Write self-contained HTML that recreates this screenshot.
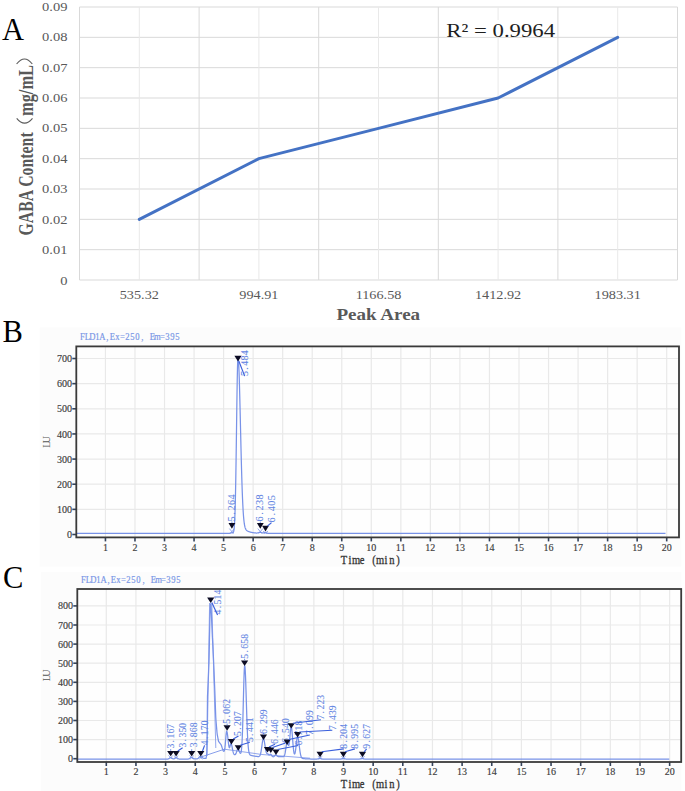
<!DOCTYPE html>
<html><head><meta charset="utf-8"><style>
html,body{margin:0;padding:0;background:#fff;overflow:hidden;}
svg{display:block;}
</style></head><body>
<svg width="685" height="791" viewBox="0 0 685 791">
<rect width="685" height="791" fill="#fff"/>
<line x1="79.5" y1="280" x2="677.5" y2="280" stroke="#d9d9d9" stroke-width="1"/>
<line x1="79.5" y1="249.67" x2="677.5" y2="249.67" stroke="#d9d9d9" stroke-width="1"/>
<line x1="79.5" y1="219.33" x2="677.5" y2="219.33" stroke="#d9d9d9" stroke-width="1"/>
<line x1="79.5" y1="189" x2="677.5" y2="189" stroke="#d9d9d9" stroke-width="1"/>
<line x1="79.5" y1="158.67" x2="677.5" y2="158.67" stroke="#d9d9d9" stroke-width="1"/>
<line x1="79.5" y1="128.33" x2="677.5" y2="128.33" stroke="#d9d9d9" stroke-width="1"/>
<line x1="79.5" y1="98" x2="677.5" y2="98" stroke="#d9d9d9" stroke-width="1"/>
<line x1="79.5" y1="67.67" x2="677.5" y2="67.67" stroke="#d9d9d9" stroke-width="1"/>
<line x1="79.5" y1="37.33" x2="677.5" y2="37.33" stroke="#d9d9d9" stroke-width="1"/>
<line x1="79.5" y1="7" x2="677.5" y2="7" stroke="#d9d9d9" stroke-width="1"/>
<line x1="79.5" y1="7" x2="79.5" y2="280" stroke="#d9d9d9" stroke-width="1"/>
<line x1="139.3" y1="7" x2="139.3" y2="280" stroke="#e9e9e9" stroke-width="1"/>
<line x1="199.1" y1="7" x2="199.1" y2="280" stroke="#d9d9d9" stroke-width="1"/>
<line x1="258.9" y1="7" x2="258.9" y2="280" stroke="#e9e9e9" stroke-width="1"/>
<line x1="318.7" y1="7" x2="318.7" y2="280" stroke="#d9d9d9" stroke-width="1"/>
<line x1="378.5" y1="7" x2="378.5" y2="280" stroke="#e9e9e9" stroke-width="1"/>
<line x1="438.3" y1="7" x2="438.3" y2="280" stroke="#d9d9d9" stroke-width="1"/>
<line x1="498.1" y1="7" x2="498.1" y2="280" stroke="#e9e9e9" stroke-width="1"/>
<line x1="557.9" y1="7" x2="557.9" y2="280" stroke="#d9d9d9" stroke-width="1"/>
<line x1="617.7" y1="7" x2="617.7" y2="280" stroke="#e9e9e9" stroke-width="1"/>
<line x1="677.5" y1="7" x2="677.5" y2="280" stroke="#d9d9d9" stroke-width="1"/>
<rect x="445" y="20" width="111" height="16.6" fill="#fff"/>
<polyline points="139.3,219.33 258.9,158.67 378.5,128.33 498.1,98 617.7,37.33" fill="none" stroke="#4472c4" stroke-width="3" stroke-linejoin="round" stroke-linecap="round"/>
<text transform="translate(67.4,284.7) scale(1.1,1)" text-anchor="end" font-family='"Liberation Serif", serif' font-size="13.2" font-weight="normal" fill="#595959" >0</text>
<text transform="translate(67.4,254.26) scale(1.1,1)" text-anchor="end" font-family='"Liberation Serif", serif' font-size="13.2" font-weight="normal" fill="#595959" >0.01</text>
<text transform="translate(67.4,223.81) scale(1.1,1)" text-anchor="end" font-family='"Liberation Serif", serif' font-size="13.2" font-weight="normal" fill="#595959" >0.02</text>
<text transform="translate(67.4,193.37) scale(1.1,1)" text-anchor="end" font-family='"Liberation Serif", serif' font-size="13.2" font-weight="normal" fill="#595959" >0.03</text>
<text transform="translate(67.4,162.93) scale(1.1,1)" text-anchor="end" font-family='"Liberation Serif", serif' font-size="13.2" font-weight="normal" fill="#595959" >0.04</text>
<text transform="translate(67.4,132.48) scale(1.1,1)" text-anchor="end" font-family='"Liberation Serif", serif' font-size="13.2" font-weight="normal" fill="#595959" >0.05</text>
<text transform="translate(67.4,102.04) scale(1.1,1)" text-anchor="end" font-family='"Liberation Serif", serif' font-size="13.2" font-weight="normal" fill="#595959" >0.06</text>
<text transform="translate(67.4,71.6) scale(1.1,1)" text-anchor="end" font-family='"Liberation Serif", serif' font-size="13.2" font-weight="normal" fill="#595959" >0.07</text>
<text transform="translate(67.4,41.15) scale(1.1,1)" text-anchor="end" font-family='"Liberation Serif", serif' font-size="13.2" font-weight="normal" fill="#595959" >0.08</text>
<text transform="translate(67.4,10.71) scale(1.1,1)" text-anchor="end" font-family='"Liberation Serif", serif' font-size="13.2" font-weight="normal" fill="#595959" >0.09</text>
<text transform="translate(139.3,298.6) scale(1.08,1)" text-anchor="middle" font-family='"Liberation Serif", serif' font-size="13.2" font-weight="normal" fill="#595959" >535.32</text>
<text transform="translate(258.9,298.6) scale(1.08,1)" text-anchor="middle" font-family='"Liberation Serif", serif' font-size="13.2" font-weight="normal" fill="#595959" >994.91</text>
<text transform="translate(378.5,298.6) scale(1.08,1)" text-anchor="middle" font-family='"Liberation Serif", serif' font-size="13.2" font-weight="normal" fill="#595959" >1166.58</text>
<text transform="translate(498.1,298.6) scale(1.08,1)" text-anchor="middle" font-family='"Liberation Serif", serif' font-size="13.2" font-weight="normal" fill="#595959" >1412.92</text>
<text transform="translate(617.7,298.6) scale(1.08,1)" text-anchor="middle" font-family='"Liberation Serif", serif' font-size="13.2" font-weight="normal" fill="#595959" >1983.31</text>
<text transform="translate(378.3,320.2) scale(1.19,1)" text-anchor="middle" font-family='"Liberation Serif", serif' font-size="16" font-weight="bold" fill="#595959" >Peak Area</text>
<text transform="translate(446.3,37) scale(1.18,1)" text-anchor="start" font-family='"Liberation Serif", serif' font-size="19.3" font-weight="normal" fill="#1e1e1e" >R² = 0.9964</text>
<g transform="translate(32.8,235.6) scale(1.25,1) rotate(-90)" font-family='"Liberation Serif", serif' font-size="16" font-weight="bold" fill="#595959"><text x="0" y="0" textLength="103.3" lengthAdjust="spacingAndGlyphs">GABA Content</text><text x="119.6" y="0" textLength="51" lengthAdjust="spacingAndGlyphs">mg/mL</text></g>
<path d="M16.6,64 Q24.5,54 32.3,64" fill="none" stroke="#5a5a5a" stroke-width="1.1"/>
<path d="M16.7,118.3 Q24.6,128 32.5,118.3" fill="none" stroke="#5a5a5a" stroke-width="1.1"/>
<text x="2.0" y="39.9" font-family='"Liberation Serif", serif' font-size="30.5" fill="#000">A</text>
<text x="2.5" y="342" font-family='"Liberation Serif", serif' font-size="30.5" fill="#000">B</text>
<text x="2.9" y="588" font-family='"Liberation Serif", serif' font-size="30.5" fill="#000">C</text>
<rect x="39.6" y="327.5" width="641.7" height="239.2" fill="#fcfcfc"/>
<rect x="76.3" y="346.4" width="602.7" height="191" fill="#fefefe"/>
<line x1="105.44" y1="346.4" x2="105.44" y2="537.4" stroke="#e9e9e9" stroke-width="1.2"/>
<line x1="134.98" y1="346.4" x2="134.98" y2="537.4" stroke="#e9e9e9" stroke-width="1.2"/>
<line x1="164.52" y1="346.4" x2="164.52" y2="537.4" stroke="#e9e9e9" stroke-width="1.2"/>
<line x1="194.06" y1="346.4" x2="194.06" y2="537.4" stroke="#e9e9e9" stroke-width="1.2"/>
<line x1="223.6" y1="346.4" x2="223.6" y2="537.4" stroke="#e9e9e9" stroke-width="1.2"/>
<line x1="253.14" y1="346.4" x2="253.14" y2="537.4" stroke="#e9e9e9" stroke-width="1.2"/>
<line x1="282.68" y1="346.4" x2="282.68" y2="537.4" stroke="#e9e9e9" stroke-width="1.2"/>
<line x1="312.22" y1="346.4" x2="312.22" y2="537.4" stroke="#e9e9e9" stroke-width="1.2"/>
<line x1="341.76" y1="346.4" x2="341.76" y2="537.4" stroke="#e9e9e9" stroke-width="1.2"/>
<line x1="371.3" y1="346.4" x2="371.3" y2="537.4" stroke="#e9e9e9" stroke-width="1.2"/>
<line x1="400.84" y1="346.4" x2="400.84" y2="537.4" stroke="#e9e9e9" stroke-width="1.2"/>
<line x1="430.38" y1="346.4" x2="430.38" y2="537.4" stroke="#e9e9e9" stroke-width="1.2"/>
<line x1="459.92" y1="346.4" x2="459.92" y2="537.4" stroke="#e9e9e9" stroke-width="1.2"/>
<line x1="489.46" y1="346.4" x2="489.46" y2="537.4" stroke="#e9e9e9" stroke-width="1.2"/>
<line x1="519" y1="346.4" x2="519" y2="537.4" stroke="#e9e9e9" stroke-width="1.2"/>
<line x1="548.54" y1="346.4" x2="548.54" y2="537.4" stroke="#e9e9e9" stroke-width="1.2"/>
<line x1="578.08" y1="346.4" x2="578.08" y2="537.4" stroke="#e9e9e9" stroke-width="1.2"/>
<line x1="607.62" y1="346.4" x2="607.62" y2="537.4" stroke="#e9e9e9" stroke-width="1.2"/>
<line x1="637.16" y1="346.4" x2="637.16" y2="537.4" stroke="#e9e9e9" stroke-width="1.2"/>
<line x1="666.7" y1="346.4" x2="666.7" y2="537.4" stroke="#e9e9e9" stroke-width="1.2"/>
<line x1="76.3" y1="509.36" x2="679" y2="509.36" stroke="#e9e9e9" stroke-width="1.2"/>
<line x1="76.3" y1="484.22" x2="679" y2="484.22" stroke="#e9e9e9" stroke-width="1.2"/>
<line x1="76.3" y1="459.08" x2="679" y2="459.08" stroke="#e9e9e9" stroke-width="1.2"/>
<line x1="76.3" y1="433.94" x2="679" y2="433.94" stroke="#e9e9e9" stroke-width="1.2"/>
<line x1="76.3" y1="408.8" x2="679" y2="408.8" stroke="#e9e9e9" stroke-width="1.2"/>
<line x1="76.3" y1="383.66" x2="679" y2="383.66" stroke="#e9e9e9" stroke-width="1.2"/>
<line x1="76.3" y1="358.52" x2="679" y2="358.52" stroke="#e9e9e9" stroke-width="1.2"/>
<text transform="scale(0.8,1)" x="103 109.25 115.5 121.75 128 134.25 140.5 146.75 153 159.25 165.5 171.75 178" y="339.8" text-anchor="middle" font-family='"Liberation Serif", serif' font-size="10.8" fill="#7896e6" stroke="#7896e6" stroke-width="0.2">FLD1A,Ex=250,</text>
<text transform="scale(0.8,1)" x="190.5 196.75 203 209.25 215.5 221.75" y="339.8" text-anchor="middle" font-family='"Liberation Serif", serif' font-size="10.8" fill="#7896e6" stroke="#7896e6" stroke-width="0.2">Em=395</text>
<line x1="72.3" y1="534.5" x2="76.3" y2="534.5" stroke="#34435c" stroke-width="1.6"/>
<text transform="scale(0.93,1)" x="74.73" y="538.1" text-anchor="middle" font-family='"Liberation Serif", serif' font-size="10.8" fill="#3a3a3a" stroke="#3a3a3a" stroke-width="0.15">0</text>
<line x1="72.3" y1="509.36" x2="76.3" y2="509.36" stroke="#34435c" stroke-width="1.6"/>
<text transform="scale(0.93,1)" x="63.98 69.35 74.73" y="512.96" text-anchor="middle" font-family='"Liberation Serif", serif' font-size="10.8" fill="#3a3a3a" stroke="#3a3a3a" stroke-width="0.15">100</text>
<line x1="72.3" y1="484.22" x2="76.3" y2="484.22" stroke="#34435c" stroke-width="1.6"/>
<text transform="scale(0.93,1)" x="63.98 69.35 74.73" y="487.82" text-anchor="middle" font-family='"Liberation Serif", serif' font-size="10.8" fill="#3a3a3a" stroke="#3a3a3a" stroke-width="0.15">200</text>
<line x1="72.3" y1="459.08" x2="76.3" y2="459.08" stroke="#34435c" stroke-width="1.6"/>
<text transform="scale(0.93,1)" x="63.98 69.35 74.73" y="462.68" text-anchor="middle" font-family='"Liberation Serif", serif' font-size="10.8" fill="#3a3a3a" stroke="#3a3a3a" stroke-width="0.15">300</text>
<line x1="72.3" y1="433.94" x2="76.3" y2="433.94" stroke="#34435c" stroke-width="1.6"/>
<text transform="scale(0.93,1)" x="63.98 69.35 74.73" y="437.54" text-anchor="middle" font-family='"Liberation Serif", serif' font-size="10.8" fill="#3a3a3a" stroke="#3a3a3a" stroke-width="0.15">400</text>
<line x1="72.3" y1="408.8" x2="76.3" y2="408.8" stroke="#34435c" stroke-width="1.6"/>
<text transform="scale(0.93,1)" x="63.98 69.35 74.73" y="412.4" text-anchor="middle" font-family='"Liberation Serif", serif' font-size="10.8" fill="#3a3a3a" stroke="#3a3a3a" stroke-width="0.15">500</text>
<line x1="72.3" y1="383.66" x2="76.3" y2="383.66" stroke="#34435c" stroke-width="1.6"/>
<text transform="scale(0.93,1)" x="63.98 69.35 74.73" y="387.26" text-anchor="middle" font-family='"Liberation Serif", serif' font-size="10.8" fill="#3a3a3a" stroke="#3a3a3a" stroke-width="0.15">600</text>
<line x1="72.3" y1="358.52" x2="76.3" y2="358.52" stroke="#34435c" stroke-width="1.6"/>
<text transform="scale(0.93,1)" x="63.98 69.35 74.73" y="362.12" text-anchor="middle" font-family='"Liberation Serif", serif' font-size="10.8" fill="#3a3a3a" stroke="#3a3a3a" stroke-width="0.15">700</text>
<line x1="105.44" y1="537.4" x2="105.44" y2="541.4" stroke="#34435c" stroke-width="1.6"/>
<text transform="scale(0.93,1)" x="113.38" y="551.4" text-anchor="middle" font-family='"Liberation Serif", serif' font-size="10.8" fill="#3a3a3a" stroke="#3a3a3a" stroke-width="0.15">1</text>
<line x1="134.98" y1="537.4" x2="134.98" y2="541.4" stroke="#34435c" stroke-width="1.6"/>
<text transform="scale(0.93,1)" x="145.14" y="551.4" text-anchor="middle" font-family='"Liberation Serif", serif' font-size="10.8" fill="#3a3a3a" stroke="#3a3a3a" stroke-width="0.15">2</text>
<line x1="164.52" y1="537.4" x2="164.52" y2="541.4" stroke="#34435c" stroke-width="1.6"/>
<text transform="scale(0.93,1)" x="176.9" y="551.4" text-anchor="middle" font-family='"Liberation Serif", serif' font-size="10.8" fill="#3a3a3a" stroke="#3a3a3a" stroke-width="0.15">3</text>
<line x1="194.06" y1="537.4" x2="194.06" y2="541.4" stroke="#34435c" stroke-width="1.6"/>
<text transform="scale(0.93,1)" x="208.67" y="551.4" text-anchor="middle" font-family='"Liberation Serif", serif' font-size="10.8" fill="#3a3a3a" stroke="#3a3a3a" stroke-width="0.15">4</text>
<line x1="223.6" y1="537.4" x2="223.6" y2="541.4" stroke="#34435c" stroke-width="1.6"/>
<text transform="scale(0.93,1)" x="240.43" y="551.4" text-anchor="middle" font-family='"Liberation Serif", serif' font-size="10.8" fill="#3a3a3a" stroke="#3a3a3a" stroke-width="0.15">5</text>
<line x1="253.14" y1="537.4" x2="253.14" y2="541.4" stroke="#34435c" stroke-width="1.6"/>
<text transform="scale(0.93,1)" x="272.19" y="551.4" text-anchor="middle" font-family='"Liberation Serif", serif' font-size="10.8" fill="#3a3a3a" stroke="#3a3a3a" stroke-width="0.15">6</text>
<line x1="282.68" y1="537.4" x2="282.68" y2="541.4" stroke="#34435c" stroke-width="1.6"/>
<text transform="scale(0.93,1)" x="303.96" y="551.4" text-anchor="middle" font-family='"Liberation Serif", serif' font-size="10.8" fill="#3a3a3a" stroke="#3a3a3a" stroke-width="0.15">7</text>
<line x1="312.22" y1="537.4" x2="312.22" y2="541.4" stroke="#34435c" stroke-width="1.6"/>
<text transform="scale(0.93,1)" x="335.72" y="551.4" text-anchor="middle" font-family='"Liberation Serif", serif' font-size="10.8" fill="#3a3a3a" stroke="#3a3a3a" stroke-width="0.15">8</text>
<line x1="341.76" y1="537.4" x2="341.76" y2="541.4" stroke="#34435c" stroke-width="1.6"/>
<text transform="scale(0.93,1)" x="367.48" y="551.4" text-anchor="middle" font-family='"Liberation Serif", serif' font-size="10.8" fill="#3a3a3a" stroke="#3a3a3a" stroke-width="0.15">9</text>
<line x1="371.3" y1="537.4" x2="371.3" y2="541.4" stroke="#34435c" stroke-width="1.6"/>
<text transform="scale(0.93,1)" x="396.56 401.94" y="551.4" text-anchor="middle" font-family='"Liberation Serif", serif' font-size="10.8" fill="#3a3a3a" stroke="#3a3a3a" stroke-width="0.15">10</text>
<line x1="400.84" y1="537.4" x2="400.84" y2="541.4" stroke="#34435c" stroke-width="1.6"/>
<text transform="scale(0.93,1)" x="428.32 433.7" y="551.4" text-anchor="middle" font-family='"Liberation Serif", serif' font-size="10.8" fill="#3a3a3a" stroke="#3a3a3a" stroke-width="0.15">11</text>
<line x1="430.38" y1="537.4" x2="430.38" y2="541.4" stroke="#34435c" stroke-width="1.6"/>
<text transform="scale(0.93,1)" x="460.09 465.46" y="551.4" text-anchor="middle" font-family='"Liberation Serif", serif' font-size="10.8" fill="#3a3a3a" stroke="#3a3a3a" stroke-width="0.15">12</text>
<line x1="459.92" y1="537.4" x2="459.92" y2="541.4" stroke="#34435c" stroke-width="1.6"/>
<text transform="scale(0.93,1)" x="491.85 497.23" y="551.4" text-anchor="middle" font-family='"Liberation Serif", serif' font-size="10.8" fill="#3a3a3a" stroke="#3a3a3a" stroke-width="0.15">13</text>
<line x1="489.46" y1="537.4" x2="489.46" y2="541.4" stroke="#34435c" stroke-width="1.6"/>
<text transform="scale(0.93,1)" x="523.61 528.99" y="551.4" text-anchor="middle" font-family='"Liberation Serif", serif' font-size="10.8" fill="#3a3a3a" stroke="#3a3a3a" stroke-width="0.15">14</text>
<line x1="519" y1="537.4" x2="519" y2="541.4" stroke="#34435c" stroke-width="1.6"/>
<text transform="scale(0.93,1)" x="555.38 560.75" y="551.4" text-anchor="middle" font-family='"Liberation Serif", serif' font-size="10.8" fill="#3a3a3a" stroke="#3a3a3a" stroke-width="0.15">15</text>
<line x1="548.54" y1="537.4" x2="548.54" y2="541.4" stroke="#34435c" stroke-width="1.6"/>
<text transform="scale(0.93,1)" x="587.14 592.52" y="551.4" text-anchor="middle" font-family='"Liberation Serif", serif' font-size="10.8" fill="#3a3a3a" stroke="#3a3a3a" stroke-width="0.15">16</text>
<line x1="578.08" y1="537.4" x2="578.08" y2="541.4" stroke="#34435c" stroke-width="1.6"/>
<text transform="scale(0.93,1)" x="618.9 624.28" y="551.4" text-anchor="middle" font-family='"Liberation Serif", serif' font-size="10.8" fill="#3a3a3a" stroke="#3a3a3a" stroke-width="0.15">17</text>
<line x1="607.62" y1="537.4" x2="607.62" y2="541.4" stroke="#34435c" stroke-width="1.6"/>
<text transform="scale(0.93,1)" x="650.67 656.04" y="551.4" text-anchor="middle" font-family='"Liberation Serif", serif' font-size="10.8" fill="#3a3a3a" stroke="#3a3a3a" stroke-width="0.15">18</text>
<line x1="637.16" y1="537.4" x2="637.16" y2="541.4" stroke="#34435c" stroke-width="1.6"/>
<text transform="scale(0.93,1)" x="682.43 687.81" y="551.4" text-anchor="middle" font-family='"Liberation Serif", serif' font-size="10.8" fill="#3a3a3a" stroke="#3a3a3a" stroke-width="0.15">19</text>
<line x1="666.7" y1="537.4" x2="666.7" y2="541.4" stroke="#34435c" stroke-width="1.6"/>
<text transform="scale(0.93,1)" x="714.19 719.57" y="551.4" text-anchor="middle" font-family='"Liberation Serif", serif' font-size="10.8" fill="#3a3a3a" stroke="#3a3a3a" stroke-width="0.15">20</text>
<g transform="translate(49.6,442.1) rotate(-90)"><text transform="scale(0.93,1)" x="-2.69 2.69" y="0" text-anchor="middle" font-family='"Liberation Serif", serif' font-size="10.8" fill="#555" >LU</text></g>
<text transform="scale(0.82,1)" x="419.51 426.83 434.15 441.46 448.78 456.1 463.41 470.73 478.05 485.37" y="564.2" text-anchor="middle" font-family='"Liberation Serif", serif' font-size="12.8" fill="#333" stroke="#333" stroke-width="0.3">Time (min)</text>
<path d="M76.5,533.49 L78.5,533.49 L80.5,533.49 L82.5,533.49 L84.5,533.49 L86.5,533.49 L88.5,533.49 L90.5,533.49 L92.5,533.49 L94.5,533.49 L96.5,533.49 L98.5,533.49 L100.5,533.49 L102.5,533.49 L104.5,533.49 L106.5,533.49 L108.5,533.49 L110.5,533.49 L112.5,533.49 L114.5,533.49 L116.5,533.49 L118.5,533.49 L120.5,533.49 L122.5,533.49 L124.5,533.49 L126.5,533.49 L128.5,533.49 L130.5,533.49 L132.5,533.49 L134.5,533.49 L136.5,533.49 L138.5,533.49 L140.5,533.49 L142.5,533.49 L144.5,533.49 L146.5,533.49 L148.5,533.49 L150.5,533.49 L152.5,533.49 L154.5,533.49 L156.5,533.49 L158.5,533.49 L160.5,533.49 L162.5,533.49 L164.5,533.49 L166.5,533.49 L168.5,533.49 L170.5,533.49 L172.5,533.49 L174.5,533.49 L176.5,533.49 L178.5,533.49 L180.5,533.49 L182.5,533.49 L184.5,533.49 L186.5,533.49 L188.5,533.49 L190.5,533.49 L192.5,533.49 L194.5,533.49 L196.5,533.49 L198.5,533.49 L200.5,533.49 L200.75,533.49 L201,533.49 L201.25,533.49 L201.5,533.49 L201.75,533.49 L202,533.49 L202.25,533.49 L202.5,533.49 L202.75,533.49 L203,533.49 L203.25,533.49 L203.5,533.49 L203.75,533.49 L204,533.49 L204.25,533.49 L204.5,533.49 L204.75,533.49 L205,533.49 L205.25,533.49 L205.5,533.49 L205.75,533.49 L206,533.49 L206.25,533.49 L206.5,533.49 L206.75,533.49 L207,533.49 L207.25,533.49 L207.5,533.49 L207.75,533.49 L208,533.49 L208.25,533.49 L208.5,533.49 L208.75,533.49 L209,533.49 L209.25,533.49 L209.5,533.49 L209.75,533.49 L210,533.49 L210.25,533.49 L210.5,533.49 L210.75,533.49 L211,533.49 L211.25,533.49 L211.5,533.49 L211.75,533.49 L212,533.49 L212.25,533.49 L212.5,533.49 L212.75,533.49 L213,533.49 L213.25,533.49 L213.5,533.49 L213.75,533.49 L214,533.49 L214.25,533.49 L214.5,533.49 L214.75,533.49 L215,533.49 L215.25,533.49 L215.5,533.49 L215.75,533.49 L216,533.49 L216.25,533.49 L216.5,533.49 L216.75,533.49 L217,533.49 L217.25,533.49 L217.5,533.49 L217.75,533.49 L218,533.49 L218.25,533.49 L218.5,533.49 L218.75,533.49 L219,533.49 L219.25,533.49 L219.5,533.49 L219.75,533.49 L220,533.49 L220.25,533.49 L220.5,533.49 L220.75,533.49 L221,533.49 L221.25,533.49 L221.5,533.49 L221.75,533.49 L222,533.49 L222.25,533.49 L222.5,533.49 L222.75,533.49 L223,533.49 L223.25,533.49 L223.5,533.49 L223.75,533.49 L224,533.49 L224.25,533.49 L224.5,533.49 L224.75,533.49 L225,533.49 L225.25,533.49 L225.5,533.49 L225.75,533.49 L226,533.49 L226.25,533.49 L226.5,533.49 L226.75,533.49 L227,533.49 L227.25,533.49 L227.5,533.49 L227.75,533.49 L228,533.49 L228.25,533.49 L228.5,533.48 L228.75,533.47 L229,533.45 L229.25,533.42 L229.5,533.37 L229.75,533.3 L230,533.21 L230.25,533.1 L230.5,532.99 L230.75,532.88 L231,532.8 L231.25,532.75 L231.5,532.74 L231.75,532.77 L232,532.83 L232.25,532.9 L232.5,532.95 L232.75,532.94 L233,532.82 L233.25,532.53 L233.5,531.98 L233.75,531.04 L234,529.54 L234.25,527.25 L234.5,523.9 L234.75,519.18 L235,512.74 L235.25,504.28 L235.5,493.57 L235.75,480.55 L236,465.33 L236.25,448.3 L236.5,430.14 L236.75,411.78 L237,394.36 L237.25,379.11 L237.5,367.2 L237.75,359.62 L238,357.01 L238.25,357.9 L238.5,360.53 L238.75,364.86 L239,370.75 L239.25,378.03 L239.5,386.5 L239.75,395.91 L240,406.02 L240.25,416.57 L240.5,427.3 L240.75,437.98 L241,448.41 L241.25,458.4 L241.5,467.8 L241.75,476.53 L242,484.49 L242.25,491.65 L242.5,498.01 L242.75,503.57 L243,508.38 L243.25,512.49 L243.5,515.96 L243.75,518.86 L244,521.25 L244.25,523.22 L244.5,524.81 L244.75,526.1 L245,527.14 L245.25,527.97 L245.5,528.63 L245.75,529.16 L246,529.59 L246.25,529.94 L246.5,530.23 L246.75,530.47 L247,530.67 L247.25,530.85 L247.5,531 L247.75,531.14 L248,531.27 L248.25,531.38 L248.5,531.49 L248.75,531.59 L249,531.68 L249.25,531.77 L249.5,531.85 L249.75,531.93 L250,532 L250.25,532.07 L250.5,532.14 L250.75,532.2 L251,532.27 L251.25,532.32 L251.5,532.38 L251.75,532.43 L252,532.48 L252.25,532.53 L252.5,532.58 L252.75,532.62 L253,532.66 L253.25,532.7 L253.5,532.74 L253.75,532.77 L254,532.81 L254.25,532.84 L254.5,532.87 L254.75,532.9 L255,532.93 L255.25,532.95 L255.5,532.97 L255.75,532.99 L256,533.01 L256.25,533.02 L256.5,533.02 L256.75,533.02 L257,533 L257.25,532.98 L257.5,532.94 L257.75,532.89 L258,532.83 L258.25,532.75 L258.5,532.67 L258.75,532.58 L259,532.49 L259.25,532.41 L259.5,532.35 L259.75,532.3 L260,532.28 L260.25,532.28 L260.5,532.31 L260.75,532.36 L261,532.44 L261.25,532.52 L261.5,532.61 L261.75,532.7 L262,532.78 L262.25,532.85 L262.5,532.89 L262.75,532.92 L263,532.92 L263.25,532.91 L263.5,532.87 L263.75,532.83 L264,532.78 L264.25,532.73 L264.5,532.69 L264.75,532.67 L265,532.66 L265.25,532.66 L265.5,532.69 L265.75,532.74 L266,532.8 L266.25,532.87 L266.5,532.94 L266.75,533.02 L267,533.1 L267.25,533.17 L267.5,533.23 L267.75,533.29 L268,533.33 L268.25,533.37 L268.5,533.4 L268.75,533.42 L269,533.43 L269.25,533.44 L269.5,533.45 L269.75,533.46 L270,533.46 L270.25,533.46 L270.5,533.47 L270.75,533.47 L271,533.47 L271.25,533.47 L271.5,533.47 L271.75,533.47 L272,533.47 L272.25,533.47 L272.5,533.48 L272.75,533.48 L273,533.48 L273.25,533.48 L273.5,533.48 L273.75,533.48 L274,533.48 L274.25,533.48 L274.5,533.48 L274.75,533.48 L275,533.48 L275.25,533.48 L275.5,533.48 L275.75,533.48 L276,533.48 L276.25,533.49 L276.5,533.49 L276.75,533.49 L277,533.49 L277.25,533.49 L277.5,533.49 L279.5,533.49 L281.5,533.49 L283.5,533.49 L285.5,533.49 L287.5,533.49 L289.5,533.49 L291.5,533.49 L293.5,533.49 L295.5,533.49 L297.5,533.49 L299.5,533.49 L301.5,533.49 L303.5,533.49 L305.5,533.49 L307.5,533.49 L309.5,533.49 L311.5,533.49 L313.5,533.49 L315.5,533.49 L317.5,533.49 L319.5,533.49 L321.5,533.49 L323.5,533.49 L325.5,533.49 L327.5,533.49 L329.5,533.49 L331.5,533.49 L333.5,533.49 L335.5,533.49 L337.5,533.49 L339.5,533.49 L341.5,533.49 L343.5,533.49 L345.5,533.49 L347.5,533.49 L349.5,533.49 L351.5,533.49 L353.5,533.49 L355.5,533.49 L357.5,533.49 L359.5,533.49 L361.5,533.49 L363.5,533.49 L365.5,533.49 L367.5,533.49 L369.5,533.49 L371.5,533.49 L373.5,533.49 L375.5,533.49 L377.5,533.49 L379.5,533.49 L381.5,533.49 L383.5,533.49 L385.5,533.49 L387.5,533.49 L389.5,533.49 L391.5,533.49 L393.5,533.49 L395.5,533.49 L397.5,533.49 L399.5,533.49 L401.5,533.49 L403.5,533.49 L405.5,533.49 L407.5,533.49 L409.5,533.49 L411.5,533.49 L413.5,533.49 L415.5,533.49 L417.5,533.49 L419.5,533.49 L421.5,533.49 L423.5,533.49 L425.5,533.49 L427.5,533.49 L429.5,533.49 L431.5,533.49 L433.5,533.49 L435.5,533.49 L437.5,533.49 L439.5,533.49 L441.5,533.49 L443.5,533.49 L445.5,533.49 L447.5,533.49 L449.5,533.49 L451.5,533.49 L453.5,533.49 L455.5,533.49 L457.5,533.49 L459.5,533.49 L461.5,533.49 L463.5,533.49 L465.5,533.49 L467.5,533.49 L469.5,533.49 L471.5,533.49 L473.5,533.49 L475.5,533.49 L477.5,533.49 L479.5,533.49 L481.5,533.49 L483.5,533.49 L485.5,533.49 L487.5,533.49 L489.5,533.49 L491.5,533.49 L493.5,533.49 L495.5,533.49 L497.5,533.49 L499.5,533.49 L501.5,533.49 L503.5,533.49 L505.5,533.49 L507.5,533.49 L509.5,533.49 L511.5,533.49 L513.5,533.49 L515.5,533.49 L517.5,533.49 L519.5,533.49 L521.5,533.49 L523.5,533.49 L525.5,533.49 L527.5,533.49 L529.5,533.49 L531.5,533.49 L533.5,533.49 L535.5,533.49 L537.5,533.49 L539.5,533.49 L541.5,533.49 L543.5,533.49 L545.5,533.49 L547.5,533.49 L549.5,533.49 L551.5,533.49 L553.5,533.49 L555.5,533.49 L557.5,533.49 L559.5,533.49 L561.5,533.49 L563.5,533.49 L565.5,533.49 L567.5,533.49 L569.5,533.49 L571.5,533.49 L573.5,533.49 L575.5,533.49 L577.5,533.49 L579.5,533.49 L581.5,533.49 L583.5,533.49 L585.5,533.49 L587.5,533.49 L589.5,533.49 L591.5,533.49 L593.5,533.49 L595.5,533.49 L597.5,533.49 L599.5,533.49 L601.5,533.49 L603.5,533.49 L605.5,533.49 L607.5,533.49 L609.5,533.49 L611.5,533.49 L613.5,533.49 L615.5,533.49 L617.5,533.49 L619.5,533.49 L621.5,533.49 L623.5,533.49 L625.5,533.49 L627.5,533.49 L629.5,533.49 L631.5,533.49 L633.5,533.49 L635.5,533.49 L637.5,533.49 L639.5,533.49 L641.5,533.49 L643.5,533.49 L645.5,533.49 L647.5,533.49 L649.5,533.49 L651.5,533.49 L653.5,533.49 L655.5,533.49 L657.5,533.49 L659.5,533.49 L661.5,533.49 L663.5,533.49 L665.5,533.49" fill="none" stroke="#7892e8" stroke-width="1.25"/>
<path d="M234.4,355.8 L241.6,355.8 L238,361.4 Z" fill="#0c0c24"/>
<line x1="238.9" y1="361.2" x2="244.7" y2="376.1" stroke="#3a5fdc" stroke-width="1.15"/>
<g transform="translate(248,376.2) rotate(-90) scale(0.93,1)"><text x="2.8 8.39 13.98 19.57 25.16" y="0" text-anchor="middle" font-family='"Liberation Serif", serif' font-size="10.8" fill="#6385e3" stroke="#6385e3" stroke-width="0.08">5.484</text></g>
<path d="M228.5,523 L235.3,523 L231.9,528.7 Z" fill="#0c0c24"/>
<line x1="229.4" y1="528.6" x2="233.4" y2="533.5" stroke="#7892e8" stroke-width="0.8"/>
<line x1="234.4" y1="528.6" x2="230.4" y2="533.5" stroke="#7892e8" stroke-width="0.8"/>
<line x1="231.9" y1="523" x2="231.9" y2="521.5" stroke="#6385e3" stroke-width="0.8"/>
<g transform="translate(234.9,521.8) rotate(-90) scale(0.93,1)"><text x="2.98 8.95 14.92 20.89 26.85" y="0" text-anchor="middle" font-family='"Liberation Serif", serif' font-size="11" fill="#6385e3" stroke="#6385e3" stroke-width="0.08">5.264</text></g>
<path d="M256.9,523 L263.7,523 L260.3,528.7 Z" fill="#0c0c24"/>
<line x1="257.8" y1="528.6" x2="261.8" y2="533.5" stroke="#7892e8" stroke-width="0.8"/>
<line x1="262.8" y1="528.6" x2="258.8" y2="533.5" stroke="#7892e8" stroke-width="0.8"/>
<line x1="260.3" y1="523" x2="260.3" y2="521.5" stroke="#6385e3" stroke-width="0.8"/>
<g transform="translate(263,521.8) rotate(-90) scale(0.93,1)"><text x="2.98 8.95 14.92 20.89 26.85" y="0" text-anchor="middle" font-family='"Liberation Serif", serif' font-size="11" fill="#6385e3" stroke="#6385e3" stroke-width="0.08">6.238</text></g>
<path d="M262.1,525.7 L268.9,525.7 L265.5,531.4 Z" fill="#0c0c24"/>
<line x1="263" y1="531.3" x2="267" y2="533.5" stroke="#7892e8" stroke-width="0.8"/>
<line x1="268" y1="531.3" x2="264" y2="533.5" stroke="#7892e8" stroke-width="0.8"/>
<line x1="267.5" y1="526" x2="271.5" y2="522.6" stroke="#3a5fdc" stroke-width="1.15"/>
<g transform="translate(274.8,522.6) rotate(-90) scale(0.93,1)"><text x="2.98 8.95 14.92 20.89 26.85" y="0" text-anchor="middle" font-family='"Liberation Serif", serif' font-size="11" fill="#6385e3" stroke="#6385e3" stroke-width="0.08">6.405</text></g>
<rect x="76.3" y="346.4" width="602.7" height="191" fill="none" stroke="#3a3a3a" stroke-width="1.8"/>
<rect x="41" y="572" width="640.3" height="219" fill="#fcfcfc"/>
<rect x="77.3" y="589" width="603.9" height="173" fill="#fefefe"/>
<line x1="106.3" y1="589" x2="106.3" y2="762" stroke="#e9e9e9" stroke-width="1.2"/>
<line x1="135.95" y1="589" x2="135.95" y2="762" stroke="#e9e9e9" stroke-width="1.2"/>
<line x1="165.6" y1="589" x2="165.6" y2="762" stroke="#e9e9e9" stroke-width="1.2"/>
<line x1="195.25" y1="589" x2="195.25" y2="762" stroke="#e9e9e9" stroke-width="1.2"/>
<line x1="224.9" y1="589" x2="224.9" y2="762" stroke="#e9e9e9" stroke-width="1.2"/>
<line x1="254.55" y1="589" x2="254.55" y2="762" stroke="#e9e9e9" stroke-width="1.2"/>
<line x1="284.2" y1="589" x2="284.2" y2="762" stroke="#e9e9e9" stroke-width="1.2"/>
<line x1="313.85" y1="589" x2="313.85" y2="762" stroke="#e9e9e9" stroke-width="1.2"/>
<line x1="343.5" y1="589" x2="343.5" y2="762" stroke="#e9e9e9" stroke-width="1.2"/>
<line x1="373.15" y1="589" x2="373.15" y2="762" stroke="#e9e9e9" stroke-width="1.2"/>
<line x1="402.8" y1="589" x2="402.8" y2="762" stroke="#e9e9e9" stroke-width="1.2"/>
<line x1="432.45" y1="589" x2="432.45" y2="762" stroke="#e9e9e9" stroke-width="1.2"/>
<line x1="462.1" y1="589" x2="462.1" y2="762" stroke="#e9e9e9" stroke-width="1.2"/>
<line x1="491.75" y1="589" x2="491.75" y2="762" stroke="#e9e9e9" stroke-width="1.2"/>
<line x1="521.4" y1="589" x2="521.4" y2="762" stroke="#e9e9e9" stroke-width="1.2"/>
<line x1="551.05" y1="589" x2="551.05" y2="762" stroke="#e9e9e9" stroke-width="1.2"/>
<line x1="580.7" y1="589" x2="580.7" y2="762" stroke="#e9e9e9" stroke-width="1.2"/>
<line x1="610.35" y1="589" x2="610.35" y2="762" stroke="#e9e9e9" stroke-width="1.2"/>
<line x1="640" y1="589" x2="640" y2="762" stroke="#e9e9e9" stroke-width="1.2"/>
<line x1="669.65" y1="589" x2="669.65" y2="762" stroke="#e9e9e9" stroke-width="1.2"/>
<line x1="77.3" y1="739.6" x2="681.2" y2="739.6" stroke="#e9e9e9" stroke-width="1.2"/>
<line x1="77.3" y1="720.5" x2="681.2" y2="720.5" stroke="#e9e9e9" stroke-width="1.2"/>
<line x1="77.3" y1="701.4" x2="681.2" y2="701.4" stroke="#e9e9e9" stroke-width="1.2"/>
<line x1="77.3" y1="682.3" x2="681.2" y2="682.3" stroke="#e9e9e9" stroke-width="1.2"/>
<line x1="77.3" y1="663.2" x2="681.2" y2="663.2" stroke="#e9e9e9" stroke-width="1.2"/>
<line x1="77.3" y1="644.1" x2="681.2" y2="644.1" stroke="#e9e9e9" stroke-width="1.2"/>
<line x1="77.3" y1="625" x2="681.2" y2="625" stroke="#e9e9e9" stroke-width="1.2"/>
<line x1="77.3" y1="605.9" x2="681.2" y2="605.9" stroke="#e9e9e9" stroke-width="1.2"/>
<text transform="scale(0.8,1)" x="104.38 110.62 116.88 123.12 129.38 135.62 141.88 148.12 154.38 160.62 166.88 173.12 179.38" y="583.2" text-anchor="middle" font-family='"Liberation Serif", serif' font-size="10.8" fill="#7896e6" stroke="#7896e6" stroke-width="0.2">FLD1A,Ex=250,</text>
<text transform="scale(0.8,1)" x="191.88 198.12 204.38 210.62 216.88 223.12" y="583.2" text-anchor="middle" font-family='"Liberation Serif", serif' font-size="10.8" fill="#7896e6" stroke="#7896e6" stroke-width="0.2">Em=395</text>
<line x1="73.3" y1="758.7" x2="77.3" y2="758.7" stroke="#34435c" stroke-width="1.6"/>
<text transform="scale(0.93,1)" x="75.81" y="762.3" text-anchor="middle" font-family='"Liberation Serif", serif' font-size="10.8" fill="#3a3a3a" stroke="#3a3a3a" stroke-width="0.15">0</text>
<line x1="73.3" y1="739.6" x2="77.3" y2="739.6" stroke="#34435c" stroke-width="1.6"/>
<text transform="scale(0.93,1)" x="65.05 70.43 75.81" y="743.2" text-anchor="middle" font-family='"Liberation Serif", serif' font-size="10.8" fill="#3a3a3a" stroke="#3a3a3a" stroke-width="0.15">100</text>
<line x1="73.3" y1="720.5" x2="77.3" y2="720.5" stroke="#34435c" stroke-width="1.6"/>
<text transform="scale(0.93,1)" x="65.05 70.43 75.81" y="724.1" text-anchor="middle" font-family='"Liberation Serif", serif' font-size="10.8" fill="#3a3a3a" stroke="#3a3a3a" stroke-width="0.15">200</text>
<line x1="73.3" y1="701.4" x2="77.3" y2="701.4" stroke="#34435c" stroke-width="1.6"/>
<text transform="scale(0.93,1)" x="65.05 70.43 75.81" y="705" text-anchor="middle" font-family='"Liberation Serif", serif' font-size="10.8" fill="#3a3a3a" stroke="#3a3a3a" stroke-width="0.15">300</text>
<line x1="73.3" y1="682.3" x2="77.3" y2="682.3" stroke="#34435c" stroke-width="1.6"/>
<text transform="scale(0.93,1)" x="65.05 70.43 75.81" y="685.9" text-anchor="middle" font-family='"Liberation Serif", serif' font-size="10.8" fill="#3a3a3a" stroke="#3a3a3a" stroke-width="0.15">400</text>
<line x1="73.3" y1="663.2" x2="77.3" y2="663.2" stroke="#34435c" stroke-width="1.6"/>
<text transform="scale(0.93,1)" x="65.05 70.43 75.81" y="666.8" text-anchor="middle" font-family='"Liberation Serif", serif' font-size="10.8" fill="#3a3a3a" stroke="#3a3a3a" stroke-width="0.15">500</text>
<line x1="73.3" y1="644.1" x2="77.3" y2="644.1" stroke="#34435c" stroke-width="1.6"/>
<text transform="scale(0.93,1)" x="65.05 70.43 75.81" y="647.7" text-anchor="middle" font-family='"Liberation Serif", serif' font-size="10.8" fill="#3a3a3a" stroke="#3a3a3a" stroke-width="0.15">600</text>
<line x1="73.3" y1="625" x2="77.3" y2="625" stroke="#34435c" stroke-width="1.6"/>
<text transform="scale(0.93,1)" x="65.05 70.43 75.81" y="628.6" text-anchor="middle" font-family='"Liberation Serif", serif' font-size="10.8" fill="#3a3a3a" stroke="#3a3a3a" stroke-width="0.15">700</text>
<line x1="73.3" y1="605.9" x2="77.3" y2="605.9" stroke="#34435c" stroke-width="1.6"/>
<text transform="scale(0.93,1)" x="65.05 70.43 75.81" y="609.5" text-anchor="middle" font-family='"Liberation Serif", serif' font-size="10.8" fill="#3a3a3a" stroke="#3a3a3a" stroke-width="0.15">800</text>
<line x1="106.3" y1="762" x2="106.3" y2="766" stroke="#34435c" stroke-width="1.6"/>
<text transform="scale(0.93,1)" x="114.3" y="774.6" text-anchor="middle" font-family='"Liberation Serif", serif' font-size="10.8" fill="#3a3a3a" stroke="#3a3a3a" stroke-width="0.15">1</text>
<line x1="135.95" y1="762" x2="135.95" y2="766" stroke="#34435c" stroke-width="1.6"/>
<text transform="scale(0.93,1)" x="146.18" y="774.6" text-anchor="middle" font-family='"Liberation Serif", serif' font-size="10.8" fill="#3a3a3a" stroke="#3a3a3a" stroke-width="0.15">2</text>
<line x1="165.6" y1="762" x2="165.6" y2="766" stroke="#34435c" stroke-width="1.6"/>
<text transform="scale(0.93,1)" x="178.06" y="774.6" text-anchor="middle" font-family='"Liberation Serif", serif' font-size="10.8" fill="#3a3a3a" stroke="#3a3a3a" stroke-width="0.15">3</text>
<line x1="195.25" y1="762" x2="195.25" y2="766" stroke="#34435c" stroke-width="1.6"/>
<text transform="scale(0.93,1)" x="209.95" y="774.6" text-anchor="middle" font-family='"Liberation Serif", serif' font-size="10.8" fill="#3a3a3a" stroke="#3a3a3a" stroke-width="0.15">4</text>
<line x1="224.9" y1="762" x2="224.9" y2="766" stroke="#34435c" stroke-width="1.6"/>
<text transform="scale(0.93,1)" x="241.83" y="774.6" text-anchor="middle" font-family='"Liberation Serif", serif' font-size="10.8" fill="#3a3a3a" stroke="#3a3a3a" stroke-width="0.15">5</text>
<line x1="254.55" y1="762" x2="254.55" y2="766" stroke="#34435c" stroke-width="1.6"/>
<text transform="scale(0.93,1)" x="273.71" y="774.6" text-anchor="middle" font-family='"Liberation Serif", serif' font-size="10.8" fill="#3a3a3a" stroke="#3a3a3a" stroke-width="0.15">6</text>
<line x1="284.2" y1="762" x2="284.2" y2="766" stroke="#34435c" stroke-width="1.6"/>
<text transform="scale(0.93,1)" x="305.59" y="774.6" text-anchor="middle" font-family='"Liberation Serif", serif' font-size="10.8" fill="#3a3a3a" stroke="#3a3a3a" stroke-width="0.15">7</text>
<line x1="313.85" y1="762" x2="313.85" y2="766" stroke="#34435c" stroke-width="1.6"/>
<text transform="scale(0.93,1)" x="337.47" y="774.6" text-anchor="middle" font-family='"Liberation Serif", serif' font-size="10.8" fill="#3a3a3a" stroke="#3a3a3a" stroke-width="0.15">8</text>
<line x1="343.5" y1="762" x2="343.5" y2="766" stroke="#34435c" stroke-width="1.6"/>
<text transform="scale(0.93,1)" x="369.35" y="774.6" text-anchor="middle" font-family='"Liberation Serif", serif' font-size="10.8" fill="#3a3a3a" stroke="#3a3a3a" stroke-width="0.15">9</text>
<line x1="373.15" y1="762" x2="373.15" y2="766" stroke="#34435c" stroke-width="1.6"/>
<text transform="scale(0.93,1)" x="398.55 403.92" y="774.6" text-anchor="middle" font-family='"Liberation Serif", serif' font-size="10.8" fill="#3a3a3a" stroke="#3a3a3a" stroke-width="0.15">10</text>
<line x1="402.8" y1="762" x2="402.8" y2="766" stroke="#34435c" stroke-width="1.6"/>
<text transform="scale(0.93,1)" x="430.43 435.81" y="774.6" text-anchor="middle" font-family='"Liberation Serif", serif' font-size="10.8" fill="#3a3a3a" stroke="#3a3a3a" stroke-width="0.15">11</text>
<line x1="432.45" y1="762" x2="432.45" y2="766" stroke="#34435c" stroke-width="1.6"/>
<text transform="scale(0.93,1)" x="462.31 467.69" y="774.6" text-anchor="middle" font-family='"Liberation Serif", serif' font-size="10.8" fill="#3a3a3a" stroke="#3a3a3a" stroke-width="0.15">12</text>
<line x1="462.1" y1="762" x2="462.1" y2="766" stroke="#34435c" stroke-width="1.6"/>
<text transform="scale(0.93,1)" x="494.19 499.57" y="774.6" text-anchor="middle" font-family='"Liberation Serif", serif' font-size="10.8" fill="#3a3a3a" stroke="#3a3a3a" stroke-width="0.15">13</text>
<line x1="491.75" y1="762" x2="491.75" y2="766" stroke="#34435c" stroke-width="1.6"/>
<text transform="scale(0.93,1)" x="526.08 531.45" y="774.6" text-anchor="middle" font-family='"Liberation Serif", serif' font-size="10.8" fill="#3a3a3a" stroke="#3a3a3a" stroke-width="0.15">14</text>
<line x1="521.4" y1="762" x2="521.4" y2="766" stroke="#34435c" stroke-width="1.6"/>
<text transform="scale(0.93,1)" x="557.96 563.33" y="774.6" text-anchor="middle" font-family='"Liberation Serif", serif' font-size="10.8" fill="#3a3a3a" stroke="#3a3a3a" stroke-width="0.15">15</text>
<line x1="551.05" y1="762" x2="551.05" y2="766" stroke="#34435c" stroke-width="1.6"/>
<text transform="scale(0.93,1)" x="589.84 595.22" y="774.6" text-anchor="middle" font-family='"Liberation Serif", serif' font-size="10.8" fill="#3a3a3a" stroke="#3a3a3a" stroke-width="0.15">16</text>
<line x1="580.7" y1="762" x2="580.7" y2="766" stroke="#34435c" stroke-width="1.6"/>
<text transform="scale(0.93,1)" x="621.72 627.1" y="774.6" text-anchor="middle" font-family='"Liberation Serif", serif' font-size="10.8" fill="#3a3a3a" stroke="#3a3a3a" stroke-width="0.15">17</text>
<line x1="610.35" y1="762" x2="610.35" y2="766" stroke="#34435c" stroke-width="1.6"/>
<text transform="scale(0.93,1)" x="653.6 658.98" y="774.6" text-anchor="middle" font-family='"Liberation Serif", serif' font-size="10.8" fill="#3a3a3a" stroke="#3a3a3a" stroke-width="0.15">18</text>
<line x1="640" y1="762" x2="640" y2="766" stroke="#34435c" stroke-width="1.6"/>
<text transform="scale(0.93,1)" x="685.48 690.86" y="774.6" text-anchor="middle" font-family='"Liberation Serif", serif' font-size="10.8" fill="#3a3a3a" stroke="#3a3a3a" stroke-width="0.15">19</text>
<line x1="669.65" y1="762" x2="669.65" y2="766" stroke="#34435c" stroke-width="1.6"/>
<text transform="scale(0.93,1)" x="717.37 722.74" y="774.6" text-anchor="middle" font-family='"Liberation Serif", serif' font-size="10.8" fill="#3a3a3a" stroke="#3a3a3a" stroke-width="0.15">20</text>
<g transform="translate(50.2,675.7) rotate(-90)"><text transform="scale(0.93,1)" x="-2.69 2.69" y="0" text-anchor="middle" font-family='"Liberation Serif", serif' font-size="10.8" fill="#555" >LU</text></g>
<text transform="scale(0.82,1)" x="419.51 426.83 434.15 441.46 448.78 456.1 463.41 470.73 478.05 485.37" y="787.8" text-anchor="middle" font-family='"Liberation Serif", serif' font-size="12.8" fill="#333" stroke="#333" stroke-width="0.3">Time (min)</text>
<path d="M77.5,759.16 L79.5,759.16 L81.5,759.16 L83.5,759.16 L85.5,759.16 L87.5,759.16 L89.5,759.16 L91.5,759.16 L93.5,759.16 L95.5,759.16 L97.5,759.16 L99.5,759.16 L101.5,759.16 L103.5,759.16 L105.5,759.16 L107.5,759.16 L109.5,759.16 L111.5,759.16 L113.5,759.16 L115.5,759.16 L117.5,759.16 L119.5,759.16 L121.5,759.16 L123.5,759.16 L125.5,759.16 L127.5,759.16 L129.5,759.16 L131.5,759.16 L133.5,759.16 L135.5,759.16 L137.5,759.16 L139.5,759.16 L141.5,759.16 L143.5,759.16 L145.5,759.16 L147.5,759.16 L149.5,759.16 L151.5,759.16 L153.5,759.16 L155.5,759.16 L157.5,759.16 L159.5,759.16 L161.5,759.16 L163.5,759.16 L163.75,759.16 L164,759.16 L164.25,759.16 L164.5,759.16 L164.75,759.16 L165,759.16 L165.25,759.16 L165.5,759.16 L165.75,759.16 L166,759.16 L166.25,759.15 L166.5,759.15 L166.75,759.15 L167,759.14 L167.25,759.12 L167.5,759.1 L167.75,759.06 L168,759 L168.25,758.91 L168.5,758.8 L168.75,758.66 L169,758.49 L169.25,758.31 L169.5,758.12 L169.75,757.93 L170,757.78 L170.25,757.68 L170.5,757.63 L170.75,757.64 L171,757.7 L171.25,757.81 L171.5,757.94 L171.75,758.09 L172,758.25 L172.25,758.41 L172.5,758.55 L172.75,758.67 L173,758.75 L173.25,758.8 L173.5,758.81 L173.75,758.77 L174,758.69 L174.25,758.56 L174.5,758.41 L174.75,758.23 L175,758.04 L175.25,757.87 L175.5,757.74 L175.75,757.65 L176,757.62 L176.25,757.65 L176.5,757.72 L176.75,757.84 L177,757.98 L177.25,758.14 L177.5,758.3 L177.75,758.46 L178,758.61 L178.25,758.73 L178.5,758.84 L178.75,758.93 L179,758.99 L179.25,759.04 L179.5,759.08 L179.75,759.1 L180,759.11 L180.25,759.12 L180.5,759.13 L180.75,759.13 L181,759.13 L181.25,759.13 L181.5,759.13 L181.75,759.13 L182,759.13 L182.25,759.13 L182.5,759.13 L182.75,759.13 L183,759.12 L183.25,759.12 L183.5,759.12 L183.75,759.12 L184,759.12 L184.25,759.12 L184.5,759.11 L184.75,759.11 L185,759.11 L185.25,759.11 L185.5,759.11 L185.75,759.1 L186,759.1 L186.25,759.1 L186.5,759.1 L186.75,759.09 L187,759.09 L187.25,759.08 L187.5,759.08 L187.75,759.06 L188,759.04 L188.25,759.01 L188.5,758.97 L188.75,758.9 L189,758.81 L189.25,758.68 L189.5,758.53 L189.75,758.34 L190,758.13 L190.25,757.91 L190.5,757.7 L190.75,757.51 L191,757.38 L191.25,757.32 L191.5,757.32 L191.75,757.37 L192,757.48 L192.25,757.62 L192.5,757.79 L192.75,757.97 L193,758.14 L193.25,758.31 L193.5,758.46 L193.75,758.59 L194,758.69 L194.25,758.76 L194.5,758.82 L194.75,758.86 L195,758.88 L195.25,758.9 L195.5,758.9 L195.75,758.9 L196,758.9 L196.25,758.89 L196.5,758.87 L196.75,758.85 L197,758.82 L197.25,758.77 L197.5,758.7 L197.75,758.6 L198,758.46 L198.25,758.28 L198.5,758.06 L198.75,757.8 L199,757.5 L199.25,757.2 L199.5,756.92 L199.75,756.68 L200,756.52 L200.25,756.44 L200.5,756.44 L200.75,756.5 L201,756.61 L201.25,756.76 L201.5,756.94 L201.75,757.13 L202,757.34 L202.25,757.53 L202.5,757.72 L202.75,757.88 L203,758.02 L203.25,758.14 L203.5,758.23 L203.75,758.3 L204,758.34 L204.25,758.37 L204.5,758.39 L204.75,758.4 L205,758.4 L205.25,758.39 L205.5,758.37 L205.75,758.36 L206,758.34 L206.25,757.21 L206.5,756.08 L206.75,753.22 L207,743.47 L207.25,723.21 L207.5,695.95 L207.75,690.92 L208,685.89 L208.25,680.6 L208.5,674.26 L208.75,667.91 L209,661.56 L209.25,649.47 L209.5,637.38 L209.75,625.29 L210,613.2 L210.25,608.63 L210.5,604.06 L210.75,604.17 L211,607.38 L211.25,611.12 L211.5,616.92 L211.75,622.73 L212,628.54 L212.25,634.18 L212.5,639.16 L212.75,644.13 L213,649.1 L213.25,654.07 L213.5,659.05 L213.75,664.71 L214,670.84 L214.25,676.97 L214.5,683.1 L214.75,689.23 L215,696.04 L215.25,703.01 L215.5,709.98 L215.75,716.95 L216,720.71 L216.25,723.67 L216.5,726.63 L216.75,729.59 L217,732.55 L217.25,734.55 L217.5,735.9 L217.75,737.26 L218,738.61 L218.25,739.97 L218.5,741.32 L218.75,741.65 L219,741.98 L219.25,742.31 L219.5,742.64 L219.75,742.97 L220,743.3 L220.25,743.62 L220.5,743.94 L220.75,744.26 L221,744.57 L221.25,744.98 L221.5,745.77 L221.75,746.55 L222,747.33 L222.25,748.1 L222.5,748.86 L222.75,749.59 L223,750.28 L223.25,750.82 L223.5,751.18 L223.75,751.36 L224,751.3 L224.25,750.91 L224.5,750.11 L224.75,748.86 L225,747.14 L225.25,744.61 L225.5,741.55 L225.75,738.46 L226,735.61 L226.25,733.3 L226.5,731.81 L226.75,731.29 L227,731.68 L227.25,732.79 L227.5,734.51 L227.75,736.67 L228,739.06 L228.25,741.46 L228.5,743.66 L228.75,745.49 L229,746.8 L229.25,747.51 L229.5,747.63 L229.75,747.21 L230,746.42 L230.25,745.44 L230.5,744.5 L230.75,743.83 L231,743.6 L231.25,743.82 L231.5,744.41 L231.75,745.32 L232,746.47 L232.25,747.76 L232.5,749.08 L232.75,750.34 L233,751.47 L233.25,752.42 L233.5,753.19 L233.75,753.78 L234,754.19 L234.25,754.47 L234.5,754.63 L234.75,754.68 L235,754.63 L235.25,754.49 L235.5,754.25 L235.75,753.89 L236,753.4 L236.25,752.8 L236.5,752.1 L236.75,751.34 L237,750.57 L237.25,749.87 L237.5,749.31 L237.75,748.95 L238,748.84 L238.25,748.98 L238.5,749.32 L238.75,749.83 L239,750.46 L239.25,751.15 L239.5,751.84 L239.75,752.45 L240,752.95 L240.25,753.26 L240.5,753.35 L240.75,753.12 L241,752.49 L241.25,751.33 L241.5,749.46 L241.75,746.7 L242,742.84 L242.25,737.73 L242.5,731.26 L242.75,723.45 L243,714.47 L243.25,704.69 L243.5,694.65 L243.75,685.06 L244,676.68 L244.25,670.26 L244.5,666.41 L244.75,665.49 L245,666.97 L245.25,670.47 L245.5,675.75 L245.75,682.45 L246,690.16 L246.25,698.41 L246.5,706.79 L246.75,714.88 L247,722.4 L247.25,729.12 L247.5,734.93 L247.75,739.79 L248,743.73 L248.25,746.84 L248.5,749.23 L248.75,751.01 L249,752.32 L249.25,753.26 L249.5,753.92 L249.75,754.38 L250,754.71 L250.25,754.94 L250.5,755.11 L250.75,755.24 L251,755.34 L251.25,755.42 L251.5,755.5 L251.75,755.56 L252,755.62 L252.25,755.68 L252.5,755.74 L252.75,755.79 L253,755.84 L253.25,755.89 L253.5,755.94 L253.75,755.98 L254,756.03 L254.25,756.07 L254.5,756.11 L254.75,756.15 L255,756.19 L255.25,756.23 L255.5,756.26 L255.75,756.3 L256,756.34 L256.25,756.37 L256.5,756.4 L256.75,756.43 L257,756.46 L257.25,756.49 L257.5,756.52 L257.75,756.54 L258,756.56 L258.25,756.56 L258.5,756.55 L258.75,756.52 L259,756.44 L259.25,756.32 L259.5,756.12 L259.75,755.82 L260,755.39 L260.25,754.8 L260.5,754.02 L260.75,753.02 L261,751.79 L261.25,750.34 L261.5,748.69 L261.75,746.91 L262,745.05 L262.25,743.24 L262.5,741.57 L262.75,740.18 L263,739.15 L263.25,738.58 L263.5,738.5 L263.75,738.88 L264,739.69 L264.25,740.85 L264.5,742.3 L264.75,743.93 L265,745.65 L265.25,747.34 L265.5,748.93 L265.75,750.33 L266,751.48 L266.25,752.37 L266.5,752.99 L266.75,753.37 L267,753.57 L267.25,753.67 L267.5,753.75 L267.75,753.86 L268,754.05 L268.25,754.29 L268.5,754.56 L268.75,754.79 L269,754.95 L269.25,754.98 L269.5,754.89 L269.75,754.71 L270,754.5 L270.25,754.33 L270.5,754.26 L270.75,754.33 L271,754.54 L271.25,754.85 L271.5,755.24 L271.75,755.63 L272,755.99 L272.25,756.28 L272.5,756.5 L272.75,756.65 L273,756.73 L273.25,756.75 L273.5,756.71 L273.75,756.63 L274,756.49 L274.25,756.3 L274.5,756.05 L274.75,755.76 L275,755.46 L275.25,755.19 L275.5,754.98 L275.75,754.87 L276,754.88 L276.25,755 L276.5,755.21 L276.75,755.47 L277,755.75 L277.25,756.01 L277.5,756.23 L277.75,756.39 L278,756.51 L278.25,756.58 L278.5,756.63 L278.75,756.65 L279,756.66 L279.25,756.66 L279.5,756.66 L279.75,756.66 L280,756.66 L280.25,756.66 L280.5,756.66 L280.75,756.66 L281,756.66 L281.25,756.66 L281.5,756.66 L281.75,756.66 L282,756.66 L282.25,756.67 L282.5,756.67 L282.75,756.66 L283,756.65 L283.25,756.61 L283.5,756.55 L283.75,756.42 L284,756.22 L284.25,755.88 L284.5,755.38 L284.75,754.66 L285,753.68 L285.25,752.42 L285.5,750.91 L285.75,749.21 L286,747.42 L286.25,745.69 L286.5,744.19 L286.75,743.08 L287,742.47 L287.25,742.4 L287.5,742.76 L287.75,743.43 L288,744.25 L288.25,745.01 L288.5,745.49 L288.75,745.49 L289,744.87 L289.25,743.55 L289.5,741.54 L289.75,738.97 L290,736.05 L290.25,733.07 L290.5,730.35 L290.75,728.22 L291,726.95 L291.25,726.71 L291.5,727.45 L291.75,729.08 L292,731.45 L292.25,734.37 L292.5,737.6 L292.75,740.91 L293,744.08 L293.25,746.95 L293.5,749.39 L293.75,751.33 L294,752.75 L294.25,753.63 L294.5,753.99 L294.75,753.84 L295,753.21 L295.25,752.13 L295.5,750.63 L295.75,748.79 L296,746.69 L296.25,744.46 L296.5,742.24 L296.75,740.2 L297,738.51 L297.25,737.32 L297.5,736.75 L297.75,736.82 L298,737.41 L298.25,738.47 L298.5,739.94 L298.75,741.7 L299,743.66 L299.25,745.71 L299.5,747.74 L299.75,749.66 L300,751.41 L300.25,752.95 L300.5,754.27 L300.75,755.35 L301,756.21 L301.25,756.89 L301.5,757.4 L301.75,757.78 L302,758.05 L302.25,758.25 L302.5,758.39 L302.75,758.48 L303,758.55 L303.25,758.6 L303.5,758.64 L303.75,758.66 L304,758.69 L304.25,758.71 L304.5,758.73 L304.75,758.75 L305,758.76 L305.25,758.78 L305.5,758.79 L305.75,758.81 L306,758.82 L306.25,758.84 L306.5,758.85 L306.75,758.86 L307,758.87 L307.25,758.89 L309.25,758.97 L311.25,759.03 L311.5,759.04 L311.75,759.04 L312,759.05 L312.25,759.05 L312.5,759.06 L312.75,759.06 L313,759.07 L313.25,759.07 L313.5,759.08 L313.75,759.08 L314,759.09 L314.25,759.09 L314.5,759.09 L314.75,759.1 L315,759.1 L315.25,759.1 L315.5,759.1 L315.75,759.1 L316,759.09 L316.25,759.09 L316.5,759.07 L316.75,759.06 L317,759.03 L317.25,759 L317.5,758.97 L317.75,758.92 L318,758.87 L318.25,758.82 L318.5,758.76 L318.75,758.71 L319,758.66 L319.25,758.62 L319.5,758.59 L319.75,758.57 L320,758.57 L320.25,758.59 L320.5,758.62 L320.75,758.66 L321,758.71 L321.25,758.76 L321.5,758.82 L321.75,758.88 L322,758.93 L322.25,758.98 L322.5,759.02 L322.75,759.06 L323,759.08 L323.25,759.1 L323.5,759.12 L323.75,759.13 L324,759.14 L324.25,759.14 L324.5,759.15 L324.75,759.15 L325,759.15 L325.25,759.15 L325.5,759.15 L325.75,759.15 L326,759.16 L326.25,759.16 L326.5,759.16 L326.75,759.16 L327,759.16 L327.25,759.16 L327.5,759.16 L327.75,759.16 L328,759.16 L328.25,759.16 L328.5,759.16 L328.75,759.16 L329,759.16 L331,759.16 L333,759.16 L335,759.16 L335.25,759.16 L335.5,759.16 L335.75,759.16 L336,759.16 L336.25,759.16 L336.5,759.16 L336.75,759.16 L337,759.16 L337.25,759.16 L337.5,759.16 L337.75,759.16 L338,759.16 L338.25,759.16 L338.5,759.16 L338.75,759.15 L339,759.15 L339.25,759.14 L339.5,759.14 L339.75,759.13 L340,759.11 L340.25,759.09 L340.5,759.06 L340.75,759.03 L341,758.99 L341.25,758.94 L341.5,758.89 L341.75,758.83 L342,758.78 L342.25,758.72 L342.5,758.67 L342.75,758.63 L343,758.6 L343.25,758.59 L343.5,758.59 L343.75,758.61 L344,758.64 L344.25,758.68 L344.5,758.73 L344.75,758.79 L345,758.85 L345.25,758.9 L345.5,758.95 L345.75,759 L346,759.04 L346.25,759.07 L346.5,759.1 L346.75,759.11 L347,759.13 L347.25,759.14 L347.5,759.15 L347.75,759.15 L348,759.15 L348.25,759.16 L348.5,759.16 L348.75,759.16 L349,759.16 L349.25,759.16 L349.5,759.16 L349.75,759.16 L350,759.16 L350.25,759.16 L350.5,759.16 L350.75,759.16 L351,759.16 L351.25,759.16 L351.5,759.16 L351.75,759.16 L352,759.16 L352.25,759.16 L352.5,759.16 L354.5,759.16 L354.75,759.16 L355,759.16 L355.25,759.16 L355.5,759.16 L355.75,759.16 L356,759.16 L356.25,759.16 L356.5,759.16 L356.75,759.16 L357,759.16 L357.25,759.16 L357.5,759.15 L357.75,759.15 L358,759.14 L358.25,759.14 L358.5,759.13 L358.75,759.11 L359,759.09 L359.25,759.06 L359.5,759.03 L359.75,758.99 L360,758.94 L360.25,758.89 L360.5,758.83 L360.75,758.77 L361,758.72 L361.25,758.67 L361.5,758.63 L361.75,758.6 L362,758.59 L362.25,758.59 L362.5,758.61 L362.75,758.64 L363,758.68 L363.25,758.73 L363.5,758.79 L363.75,758.85 L364,758.9 L364.25,758.96 L364.5,759 L364.75,759.04 L365,759.07 L365.25,759.1 L365.5,759.12 L365.75,759.13 L366,759.14 L366.25,759.15 L366.5,759.15 L366.75,759.15 L367,759.16 L367.25,759.16 L367.5,759.16 L367.75,759.16 L368,759.16 L368.25,759.16 L368.5,759.16 L368.75,759.16 L369,759.16 L369.25,759.16 L369.5,759.16 L369.75,759.16 L370,759.16 L370.25,759.16 L370.5,759.16 L370.75,759.16 L371,759.16 L371.25,759.16 L373.25,759.16 L375.25,759.16 L377.25,759.16 L379.25,759.16 L381.25,759.16 L383.25,759.16 L385.25,759.16 L387.25,759.16 L389.25,759.16 L391.25,759.16 L393.25,759.16 L395.25,759.16 L397.25,759.16 L399.25,759.16 L401.25,759.16 L403.25,759.16 L405.25,759.16 L407.25,759.16 L409.25,759.16 L411.25,759.16 L413.25,759.16 L415.25,759.16 L417.25,759.16 L419.25,759.16 L421.25,759.16 L423.25,759.16 L425.25,759.16 L427.25,759.16 L429.25,759.16 L431.25,759.16 L433.25,759.16 L435.25,759.16 L437.25,759.16 L439.25,759.16 L441.25,759.16 L443.25,759.16 L445.25,759.16 L447.25,759.16 L449.25,759.16 L451.25,759.16 L453.25,759.16 L455.25,759.16 L457.25,759.16 L459.25,759.16 L461.25,759.16 L463.25,759.16 L465.25,759.16 L467.25,759.16 L469.25,759.16 L471.25,759.16 L473.25,759.16 L475.25,759.16 L477.25,759.16 L479.25,759.16 L481.25,759.16 L483.25,759.16 L485.25,759.16 L487.25,759.16 L489.25,759.16 L491.25,759.16 L493.25,759.16 L495.25,759.16 L497.25,759.16 L499.25,759.16 L501.25,759.16 L503.25,759.16 L505.25,759.16 L507.25,759.16 L509.25,759.16 L511.25,759.16 L513.25,759.16 L515.25,759.16 L517.25,759.16 L519.25,759.16 L521.25,759.16 L523.25,759.16 L525.25,759.16 L527.25,759.16 L529.25,759.16 L531.25,759.16 L533.25,759.16 L535.25,759.16 L537.25,759.16 L539.25,759.16 L541.25,759.16 L543.25,759.16 L545.25,759.16 L547.25,759.16 L549.25,759.16 L551.25,759.16 L553.25,759.16 L555.25,759.16 L557.25,759.16 L559.25,759.16 L561.25,759.16 L563.25,759.16 L565.25,759.16 L567.25,759.16 L569.25,759.16 L571.25,759.16 L573.25,759.16 L575.25,759.16 L577.25,759.16 L579.25,759.16 L581.25,759.16 L583.25,759.16 L585.25,759.16 L587.25,759.16 L589.25,759.16 L591.25,759.16 L593.25,759.16 L595.25,759.16 L597.25,759.16 L599.25,759.16 L601.25,759.16 L603.25,759.16 L605.25,759.16 L607.25,759.16 L609.25,759.16 L611.25,759.16 L613.25,759.16 L615.25,759.16 L617.25,759.16 L619.25,759.16 L621.25,759.16 L623.25,759.16 L625.25,759.16 L627.25,759.16 L629.25,759.16 L631.25,759.16 L633.25,759.16 L635.25,759.16 L637.25,759.16 L639.25,759.16 L641.25,759.16 L643.25,759.16 L645.25,759.16 L647.25,759.16 L649.25,759.16 L651.25,759.16 L653.25,759.16 L655.25,759.16 L657.25,759.16 L659.25,759.16 L661.25,759.16 L663.25,759.16 L665.25,759.16 L667.25,759.16 L669.25,759.16" fill="none" stroke="#7892e8" stroke-width="1.25"/>
<line x1="199.8" y1="757.4" x2="224.4" y2="749.2" stroke="#7892e8" stroke-width="0.9"/>
<line x1="224.4" y1="749.2" x2="262" y2="754.5" stroke="#7892e8" stroke-width="0.8"/>
<line x1="262" y1="754.5" x2="310" y2="758.2" stroke="#7892e8" stroke-width="0.8"/>
<line x1="207" y1="756" x2="209.6" y2="603" stroke="#7892e8" stroke-width="0.8"/>
<line x1="211.8" y1="603" x2="215.8" y2="748" stroke="#7892e8" stroke-width="0.8"/>
<g transform="translate(174.4,748.7) rotate(-90) scale(0.93,1)"><text x="2.69 8.06 13.44 18.82 24.19" y="0" text-anchor="middle" font-family='"Liberation Serif", serif' font-size="10.4" fill="#6385e3" stroke="#6385e3" stroke-width="0.08">3.167</text></g>
<g transform="translate(185.9,747.7) rotate(-90) scale(0.93,1)"><text x="2.69 8.06 13.44 18.82 24.19" y="0" text-anchor="middle" font-family='"Liberation Serif", serif' font-size="10.4" fill="#6385e3" stroke="#6385e3" stroke-width="0.08">3.350</text></g>
<g transform="translate(196.9,747.3) rotate(-90) scale(0.93,1)"><text x="2.69 8.06 13.44 18.82 24.19" y="0" text-anchor="middle" font-family='"Liberation Serif", serif' font-size="10.4" fill="#6385e3" stroke="#6385e3" stroke-width="0.08">3.868</text></g>
<g transform="translate(207.8,745.4) rotate(-90) scale(0.93,1)"><text x="2.69 8.06 13.44 18.82 24.19" y="0" text-anchor="middle" font-family='"Liberation Serif", serif' font-size="10.4" fill="#6385e3" stroke="#6385e3" stroke-width="0.08">4.170</text></g>
<g transform="translate(220.9,614.5) rotate(-90) scale(0.93,1)"><text x="2.69 8.06 13.44 18.82 24.19" y="0" text-anchor="middle" font-family='"Liberation Serif", serif' font-size="10.4" fill="#6385e3" stroke="#6385e3" stroke-width="0.08">4.514</text></g>
<g transform="translate(230.2,723.8) rotate(-90) scale(0.93,1)"><text x="2.69 8.06 13.44 18.82 24.19" y="0" text-anchor="middle" font-family='"Liberation Serif", serif' font-size="10.4" fill="#6385e3" stroke="#6385e3" stroke-width="0.08">5.062</text></g>
<g transform="translate(241.3,736) rotate(-90) scale(0.93,1)"><text x="2.69 8.06 13.44 18.82 24.19" y="0" text-anchor="middle" font-family='"Liberation Serif", serif' font-size="10.4" fill="#6385e3" stroke="#6385e3" stroke-width="0.08">5.207</text></g>
<g transform="translate(253.2,742.2) rotate(-90) scale(0.93,1)"><text x="2.69 8.06 13.44 18.82 24.19" y="0" text-anchor="middle" font-family='"Liberation Serif", serif' font-size="10.4" fill="#6385e3" stroke="#6385e3" stroke-width="0.08">5.441</text></g>
<g transform="translate(248.1,658.8) rotate(-90) scale(0.93,1)"><text x="2.69 8.06 13.44 18.82 24.19" y="0" text-anchor="middle" font-family='"Liberation Serif", serif' font-size="10.4" fill="#6385e3" stroke="#6385e3" stroke-width="0.08">5.658</text></g>
<g transform="translate(266.5,734.2) rotate(-90) scale(0.93,1)"><text x="2.69 8.06 13.44 18.82 24.19" y="0" text-anchor="middle" font-family='"Liberation Serif", serif' font-size="10.4" fill="#6385e3" stroke="#6385e3" stroke-width="0.08">6.299</text></g>
<g transform="translate(278.3,744.2) rotate(-90) scale(0.93,1)"><text x="2.69 8.06 13.44 18.82 24.19" y="0" text-anchor="middle" font-family='"Liberation Serif", serif' font-size="10.4" fill="#6385e3" stroke="#6385e3" stroke-width="0.08">6.446</text></g>
<g transform="translate(288.8,743) rotate(-90) scale(0.93,1)"><text x="2.69 8.06 13.44 18.82 24.19" y="0" text-anchor="middle" font-family='"Liberation Serif", serif' font-size="10.4" fill="#6385e3" stroke="#6385e3" stroke-width="0.08">6.540</text></g>
<g transform="translate(301.5,745.5) rotate(-90) scale(0.93,1)"><text x="2.69 8.06 13.44 18.82 24.19" y="0" text-anchor="middle" font-family='"Liberation Serif", serif' font-size="10.4" fill="#6385e3" stroke="#6385e3" stroke-width="0.08">6.718</text></g>
<g transform="translate(313.2,735) rotate(-90) scale(0.93,1)"><text x="2.69 8.06 13.44 18.82 24.19" y="0" text-anchor="middle" font-family='"Liberation Serif", serif' font-size="10.4" fill="#6385e3" stroke="#6385e3" stroke-width="0.08">7.099</text></g>
<g transform="translate(324.3,719.7) rotate(-90) scale(0.93,1)"><text x="2.69 8.06 13.44 18.82 24.19" y="0" text-anchor="middle" font-family='"Liberation Serif", serif' font-size="10.4" fill="#6385e3" stroke="#6385e3" stroke-width="0.08">7.223</text></g>
<g transform="translate(335.7,730.2) rotate(-90) scale(0.93,1)"><text x="2.69 8.06 13.44 18.82 24.19" y="0" text-anchor="middle" font-family='"Liberation Serif", serif' font-size="10.4" fill="#6385e3" stroke="#6385e3" stroke-width="0.08">7.439</text></g>
<g transform="translate(347.2,748.9) rotate(-90) scale(0.93,1)"><text x="2.69 8.06 13.44 18.82 24.19" y="0" text-anchor="middle" font-family='"Liberation Serif", serif' font-size="10.4" fill="#6385e3" stroke="#6385e3" stroke-width="0.08">8.204</text></g>
<g transform="translate(358.3,748.9) rotate(-90) scale(0.93,1)"><text x="2.69 8.06 13.44 18.82 24.19" y="0" text-anchor="middle" font-family='"Liberation Serif", serif' font-size="10.4" fill="#6385e3" stroke="#6385e3" stroke-width="0.08">8.995</text></g>
<g transform="translate(370,748.9) rotate(-90) scale(0.93,1)"><text x="2.69 8.06 13.44 18.82 24.19" y="0" text-anchor="middle" font-family='"Liberation Serif", serif' font-size="10.4" fill="#6385e3" stroke="#6385e3" stroke-width="0.08">9.627</text></g>
<line x1="168.5" y1="755.4" x2="172.3" y2="759.2" stroke="#7892e8" stroke-width="0.8"/>
<line x1="172.9" y1="755.4" x2="169.1" y2="759.2" stroke="#7892e8" stroke-width="0.8"/>
<line x1="173.9" y1="755.5" x2="177.7" y2="759.2" stroke="#7892e8" stroke-width="0.8"/>
<line x1="178.3" y1="755.5" x2="174.5" y2="759.2" stroke="#7892e8" stroke-width="0.8"/>
<line x1="189.5" y1="755.5" x2="193.3" y2="759.2" stroke="#7892e8" stroke-width="0.8"/>
<line x1="193.9" y1="755.5" x2="190.1" y2="759.2" stroke="#7892e8" stroke-width="0.8"/>
<line x1="198.6" y1="755.5" x2="202.4" y2="759.2" stroke="#7892e8" stroke-width="0.8"/>
<line x1="203" y1="755.5" x2="199.2" y2="759.2" stroke="#7892e8" stroke-width="0.8"/>
<line x1="317.9" y1="756.3" x2="321.7" y2="759.2" stroke="#7892e8" stroke-width="0.8"/>
<line x1="322.3" y1="756.3" x2="318.5" y2="759.2" stroke="#7892e8" stroke-width="0.8"/>
<line x1="341.2" y1="756.3" x2="345" y2="759.2" stroke="#7892e8" stroke-width="0.8"/>
<line x1="345.6" y1="756.3" x2="341.8" y2="759.2" stroke="#7892e8" stroke-width="0.8"/>
<line x1="360.3" y1="756.3" x2="364.1" y2="759.2" stroke="#7892e8" stroke-width="0.8"/>
<line x1="364.7" y1="756.3" x2="360.9" y2="759.2" stroke="#7892e8" stroke-width="0.8"/>
<path d="M167.1,750.9 L174.3,750.9 L170.7,756.3 Z" fill="#0c0c24"/>
<line x1="170.7" y1="750.9" x2="170.7" y2="749.1" stroke="#6385e3" stroke-width="0.9"/>
<path d="M172.5,751 L179.7,751 L176.1,756.4 Z" fill="#0c0c24"/>
<line x1="177.8" y1="751" x2="182.6" y2="747.7" stroke="#3a5fdc" stroke-width="1.15"/>
<path d="M188.1,751 L195.3,751 L191.7,756.4 Z" fill="#0c0c24"/>
<line x1="191.7" y1="751" x2="191.7" y2="749.2" stroke="#6385e3" stroke-width="0.9"/>
<path d="M197.2,751 L204.4,751 L200.8,756.4 Z" fill="#0c0c24"/>
<line x1="202.5" y1="751" x2="204.6" y2="745.4" stroke="#3a5fdc" stroke-width="1.15"/>
<path d="M207.1,597.6 L214.3,597.6 L210.7,603 Z" fill="#0c0c24"/>
<line x1="211.8" y1="602.5" x2="217.6" y2="615" stroke="#3a5fdc" stroke-width="1.15"/>
<path d="M223.5,725.3 L230.7,725.3 L227.1,730.7 Z" fill="#0c0c24"/>
<line x1="227.1" y1="725.3" x2="227.1" y2="723.5" stroke="#6385e3" stroke-width="0.9"/>
<path d="M227.8,739.1 L235,739.1 L231.4,744.5 Z" fill="#0c0c24"/>
<line x1="233.2" y1="739.1" x2="238.5" y2="736" stroke="#3a5fdc" stroke-width="1.15"/>
<path d="M234.7,745.3 L241.9,745.3 L238.3,750.7 Z" fill="#0c0c24"/>
<line x1="240.2" y1="745.3" x2="249.8" y2="742.2" stroke="#3a5fdc" stroke-width="1.15"/>
<path d="M241,660.5 L248.2,660.5 L244.6,665.9 Z" fill="#0c0c24"/>
<line x1="244.6" y1="660.5" x2="244.6" y2="658.7" stroke="#6385e3" stroke-width="0.9"/>
<path d="M259.9,734.6 L267.1,734.6 L263.5,740 Z" fill="#0c0c24"/>
<line x1="263.5" y1="734.6" x2="263.5" y2="732.8" stroke="#6385e3" stroke-width="0.9"/>
<path d="M263.9,747.1 L271.1,747.1 L267.5,752.5 Z" fill="#0c0c24"/>
<line x1="269" y1="747.1" x2="275" y2="744.2" stroke="#3a5fdc" stroke-width="1.15"/>
<path d="M267.2,747.5 L274.4,747.5 L270.8,752.9 Z" fill="#0c0c24"/>
<line x1="272.4" y1="747.5" x2="285.5" y2="743" stroke="#3a5fdc" stroke-width="1.15"/>
<path d="M272.4,749.5 L279.6,749.5 L276,754.9 Z" fill="#0c0c24"/>
<line x1="277.6" y1="749.5" x2="298.2" y2="745.5" stroke="#3a5fdc" stroke-width="1.15"/>
<path d="M283.5,739.5 L290.7,739.5 L287.1,744.9 Z" fill="#0c0c24"/>
<line x1="288.8" y1="739.5" x2="309.8" y2="735" stroke="#3a5fdc" stroke-width="1.15"/>
<path d="M287.6,723.2 L294.8,723.2 L291.2,728.6 Z" fill="#0c0c24"/>
<line x1="292.9" y1="723.2" x2="320.9" y2="719.7" stroke="#3a5fdc" stroke-width="1.15"/>
<path d="M294,732 L301.2,732 L297.6,737.4 Z" fill="#0c0c24"/>
<line x1="299.3" y1="732" x2="332.3" y2="730.2" stroke="#3a5fdc" stroke-width="1.15"/>
<path d="M316.5,751.8 L323.7,751.8 L320.1,757.2 Z" fill="#0c0c24"/>
<line x1="321.8" y1="751.8" x2="343.8" y2="748.9" stroke="#3a5fdc" stroke-width="1.15"/>
<path d="M339.8,751.8 L347,751.8 L343.4,757.2 Z" fill="#0c0c24"/>
<line x1="345.1" y1="751.8" x2="354.9" y2="748.9" stroke="#3a5fdc" stroke-width="1.15"/>
<path d="M358.9,751.8 L366.1,751.8 L362.5,757.2 Z" fill="#0c0c24"/>
<line x1="364.2" y1="751.8" x2="366.6" y2="748.9" stroke="#3a5fdc" stroke-width="1.15"/>
<rect x="77.3" y="589" width="603.9" height="173" fill="none" stroke="#3a3a3a" stroke-width="1.8"/>
</svg>
</body></html>
